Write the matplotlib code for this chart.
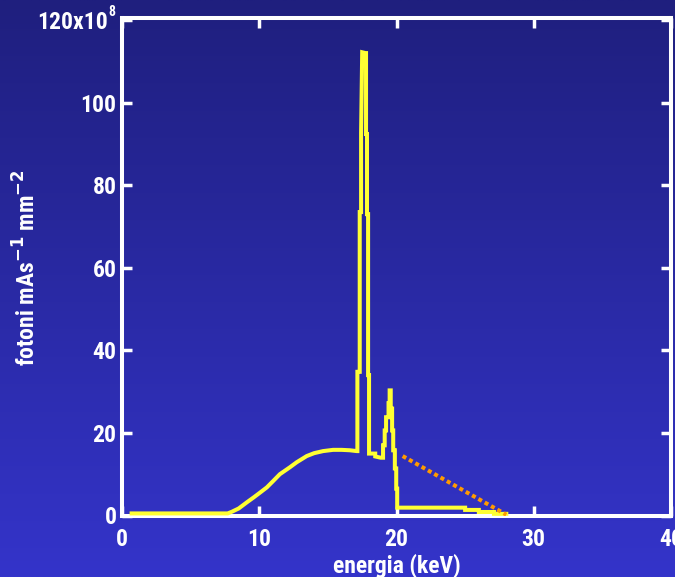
import numpy as np
import matplotlib
matplotlib.use("Agg")
import matplotlib.pyplot as plt
from matplotlib import font_manager as fm

# ---------------- data ----------------
energy = [0.7, 7.7, 8.0, 8.5, 9.1, 9.6, 10.0, 10.55, 11.0, 11.5, 12.24, 12.73,
          13.46, 14.0, 14.65, 15.38, 16.0, 16.6, 17.1,
          17.15, 17.15, 17.32, 17.32, 17.42, 17.42, 17.5, 17.75,
          17.78, 17.78, 17.85, 17.85, 17.93, 17.93, 18.0, 18.0,
          18.45, 18.45, 18.85, 19.02, 19.02, 19.14, 19.14, 19.24, 19.24,
          19.42, 19.42, 19.5, 19.5, 19.58, 19.58, 19.68, 19.68, 19.76, 19.76,
          19.88, 19.88, 19.98, 19.98, 20.05, 20.05, 25.0, 25.0, 26.0, 26.0,
          27.1, 27.1, 28.0]
photons = [0.5, 0.5, 0.9, 1.7, 3.2, 4.4, 5.4, 6.8, 8.3, 10.0, 11.7, 12.9,
           14.4, 15.1, 15.6, 15.9, 15.9, 15.8, 15.6,
           15.6, 34.8, 34.8, 73.5, 73.5, 92.6, 112.2, 112.0,
           112.0, 92.4, 92.4, 73.0, 73.0, 34.0, 34.0, 15.0,
           15.0, 14.3, 14.0, 14.0, 17.0, 17.0, 20.6, 20.6, 23.8,
           23.8, 27.2, 27.2, 30.3, 30.3, 25.9, 25.9, 20.6, 20.6, 15.8,
           15.8, 11.4, 11.4, 6.5, 6.5, 1.9, 1.9, 1.35, 1.35, 0.85,
           0.85, 0.4, 0.4]

ext_energy = [20.45, 28.0]
ext_photons = [14.4, 0.2]

xticks = [0, 10, 20, 30, 40]
yticks = [0, 20, 40, 60, 80, 100, 120]
ytick_labels = ["0", "20", "40", "60", "80", "100", ""]
ytop_label = "120x10"
ytop_exp = "8"
xlabel = "energia (keV)"
ylabel = r"fotoni mAs$^{-1}$ mm$^{-2}$"

# ---------------- fonts ----------------
entries = fm.fontManager.ttflist
names = {f.name for f in entries}
stretch = "normal"
fam = None
for cand in ["Liberation Sans Narrow", "Arial Narrow", "Roboto Condensed",
             "Open Sans Condensed", "DejaVu Sans Condensed"]:
    if cand in names:
        fam = cand
        break
if fam is None:
    if any(f.name == "DejaVu Sans" and str(f.stretch) in ("condensed", "semi-condensed")
           and str(f.weight) in ("bold", "700") for f in entries):
        fam = "DejaVu Sans"
        stretch = "condensed"
    elif "Liberation Sans" in names:
        fam = "Liberation Sans"
    else:
        fam = "DejaVu Sans"
plt.rcParams["font.family"] = [fam, "DejaVu Sans"]
plt.rcParams["font.weight"] = "bold"
plt.rcParams["font.stretch"] = stretch

fp = dict(family=[fam, "DejaVu Sans"], weight="bold", stretch=stretch)
FS = 17

W, H = 675, 577
fig = plt.figure(figsize=(W / 100, H / 100), dpi=100)

# background gradient
bg = fig.add_axes([0, 0, 1, 1], zorder=-10)
t = np.linspace(0, 1, 256)[:, None]
top = np.array([31, 31, 126]) / 255
bot = np.array([52, 52, 202]) / 255
grad = top[None, None, :] * (1 - t[:, :, None]) + bot[None, None, :] * t[:, :, None]
grad = np.repeat(grad, 2, axis=1)
bg.imshow(grad, aspect="auto", extent=[0, 1, 0, 1])
bg.set_axis_off()

left, right = 122 / W, 671 / W
bottom, topy = (H - 515.5) / H, (H - 18) / H
ax = fig.add_axes([left, bottom, right - left, topy - bottom])
ax.patch.set_alpha(0)

ax.plot(energy, photons, color="#ffff33", lw=2.9, solid_joinstyle="miter", zorder=3)
ax.plot(ext_energy, ext_photons, color="#ff9a00", lw=2.9, linestyle=(0, (1, 0.8)), zorder=4)

ax.set_xlim(0, 40)
ax.set_ylim(0, 120.5)
ax.set_xticks(xticks)
ax.set_yticks(yticks)
ax.set_yticklabels(ytick_labels)

for s in ax.spines.values():
    s.set_color("white")
    s.set_linewidth(2.9)
ax.tick_params(axis="both", direction="in", length=7, width=2.5, color="white",
               labelcolor="white", labelsize=FS, top=True, right=True)
ax.tick_params(axis="x", pad=9)
ax.tick_params(axis="y", pad=4)
for lab in ax.get_xticklabels() + ax.get_yticklabels():
    lab.set_fontproperties(fm.FontProperties(size=FS, **fp))

# top tick label with exponent
ax.annotate(ytop_label, xy=(0, 120), xycoords=("axes fraction", "data"),
            xytext=(-10, -1.5), textcoords="offset points", ha="right", va="center",
            color="white", fontsize=FS, **fp)
ax.annotate(ytop_exp, xy=(0, 120), xycoords=("axes fraction", "data"),
            xytext=(-7, 5.5), textcoords="offset points", ha="center", va="center",
            color="white", fontsize=10, **fp)

# axis labels
fig.text(396.5 / W, 1 - 566 / H, xlabel, ha="center", va="center",
         color="white", fontsize=FS, **fp)
fig.text(27 / W, 1 - 268 / H, ylabel, ha="center", va="center", rotation=90,
         color="white", fontsize=FS, **fp)

fig.savefig("out.png", dpi=100)
